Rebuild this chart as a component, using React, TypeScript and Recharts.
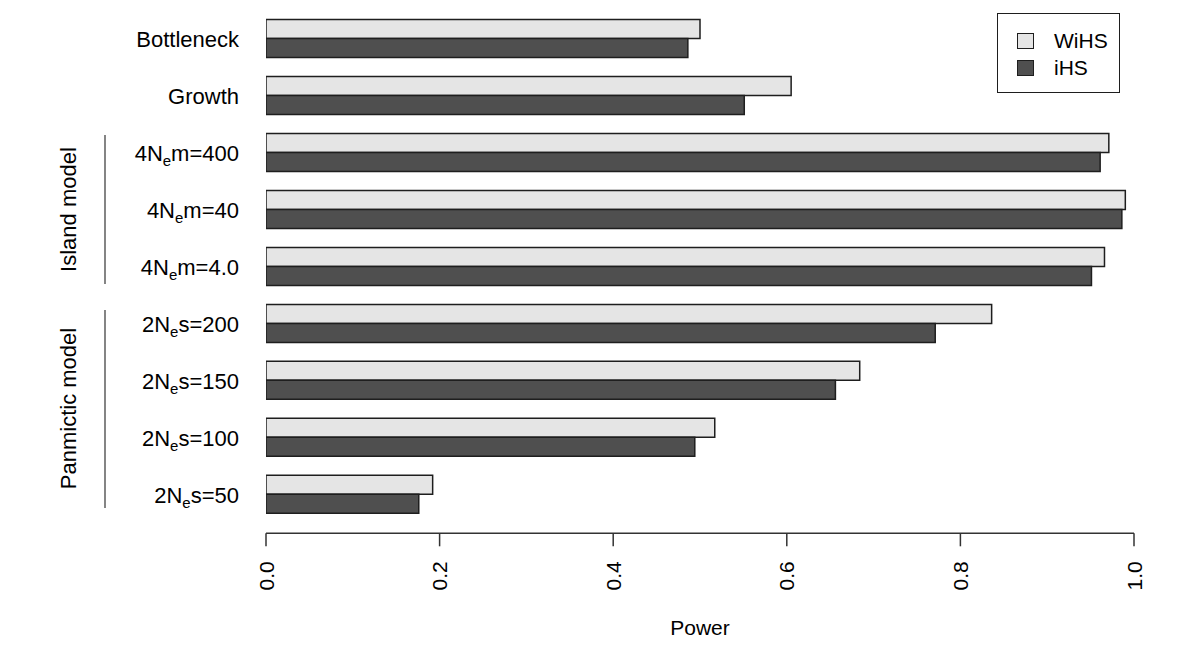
import React from "react";
import { BarChart, Bar, XAxis, YAxis, Legend, Label, Customized } from "recharts";

// ---- data ----
const categories = [
  "Bottleneck",
  "Growth",
  "4N_em=400",
  "4N_em=40",
  "4N_em=4.0",
  "2N_es=200",
  "2N_es=150",
  "2N_es=100",
  "2N_es=50",
];
const wihsValues = [0.5, 0.605, 0.971, 0.99, 0.966, 0.836, 0.684, 0.517, 0.192];
const ihsValues = [0.486, 0.551, 0.961, 0.986, 0.951, 0.771, 0.656, 0.494, 0.176];
const xTicks = [0, 0.2, 0.4, 0.6, 0.8, 1.0];
const seriesNames = ["WiHS", "iHS"];
const seriesColors = ["#e5e5e5", "#4f4f4f"];
const groupLabels = ["Island model", "Panmictic model"];
const xAxisTitle = "Power";

const data = categories.map((name, i) => ({
  name,
  WiHS: wihsValues[i],
  iHS: ihsValues[i],
}));

const FONT = "'Liberation Sans', Arial, Helvetica, sans-serif";
const STROKE = "#1e1e1e";

const YTick = (props: any) => {
  const { x, y, payload } = props;
  const parts = String(payload.value).split("_");
  return (
    <text x={x} y={y} dy="0.36em" textAnchor="end" fontSize={22} fontFamily={FONT} fill="#000">
      {parts.length === 1 ? (
        parts[0]
      ) : (
        <>
          <tspan>{parts[0]}</tspan>
          <tspan fontSize={15} dy={5}>
            {parts[1].slice(0, 1)}
          </tspan>
          <tspan dy={-5}>{parts[1].slice(1)}</tspan>
        </>
      )}
    </text>
  );
};

const XTick = (props: any) => {
  const { x, y, payload } = props;
  return (
    <text
      x={x}
      y={y}
      dy="0.36em"
      textAnchor="end"
      transform={`rotate(-90 ${x} ${y})`}
      fontSize={21}
      fontFamily={FONT}
      fill="#000"
    >
      {Number(payload.value).toFixed(1)}
    </text>
  );
};

const GroupAnnotations = () => (
  <g>
    <line x1={105} x2={105} y1={135} y2={284} stroke="#333" strokeWidth={1.2} />
    <text
      x={68}
      y={209.5}
      dy="0.36em"
      textAnchor="middle"
      transform="rotate(-90 68 209.5)"
      fontSize={22}
      fontFamily={FONT}
      fill="#000"
    >
      {groupLabels[0]}
    </text>
    <line x1={105} x2={105} y1={310} y2={508} stroke="#333" strokeWidth={1.2} />
    <text
      x={68}
      y={408.5}
      dy="0.36em"
      textAnchor="middle"
      transform="rotate(-90 68 408.5)"
      fontSize={22}
      fontFamily={FONT}
      fill="#000"
    >
      {groupLabels[1]}
    </text>
  </g>
);

const LegendBox = () => (
  <div
    style={{
      position: "relative",
      width: 123,
      height: 80,
      border: `1.5px solid ${STROKE}`,
      boxSizing: "border-box",
      background: "#fff",
      fontFamily: FONT,
      fontSize: 21,
      color: "#000",
    }}
  >
    {seriesNames.map((n, i) => (
      <div
        key={n}
        style={{
          position: "absolute",
          left: 19,
          top: 19 + i * 27,
          height: 16,
          display: "flex",
          alignItems: "center",
          whiteSpace: "nowrap",
        }}
      >
        <span
          style={{
            display: "inline-block",
            width: 15,
            height: 14,
            background: seriesColors[i],
            border: `1.5px solid ${STROKE}`,
          }}
        />
        <span style={{ marginLeft: 20, lineHeight: "16px" }}>{n}</span>
      </div>
    ))}
  </div>
);

export default function App() {
  return (
    <div style={{ position: "absolute", left: 0, top: 0, width: 1200, height: 667, background: "#fff" }}>
      <BarChart
        width={1200}
        height={667}
        data={data}
        layout="vertical"
        margin={{ top: 10.5, right: 66, bottom: 33.7, left: 0 }}
        barGap={0}
      >
        <XAxis
          type="number"
          domain={[0, 1]}
          ticks={xTicks}
          height={100}
          tickSize={13}
          tickMargin={15}
          tick={<XTick />}
          axisLine={{ stroke: "#333", strokeWidth: 1.5 }}
          tickLine={{ stroke: "#333", strokeWidth: 1.5 }}
          allowDataOverflow
        >
          <Label
            content={(p: any) => {
              const vb = p.viewBox || {};
              return (
                <text
                  x={vb.x + vb.width / 2}
                  y={vb.y + 102}
                  textAnchor="middle"
                  fontSize={21}
                  fontFamily={FONT}
                  fill="#000"
                >
                  {xAxisTitle}
                </text>
              );
            }}
          />
        </XAxis>
        <YAxis
          type="category"
          dataKey="name"
          width={266}
          axisLine={false}
          tickLine={false}
          tickSize={0}
          tickMargin={27}
          interval={0}
          padding={{ top: 0, bottom: 10 }}
          tick={<YTick />}
        />
        <Legend
          layout="vertical"
          align="center"
          verticalAlign="middle"
          wrapperStyle={{ left: 997, top: 13, width: 123, height: 80 }}
          content={() => <LegendBox />}
        />
        <Bar
          dataKey="WiHS"
          fill={seriesColors[0]}
          stroke={STROKE}
          strokeWidth={1.5}
          barSize={19}
          isAnimationActive={false}
        />
        <Bar
          dataKey="iHS"
          fill={seriesColors[1]}
          stroke={STROKE}
          strokeWidth={1.5}
          barSize={19}
          isAnimationActive={false}
        />
        <Customized component={GroupAnnotations} />
      </BarChart>
    </div>
  );
}
